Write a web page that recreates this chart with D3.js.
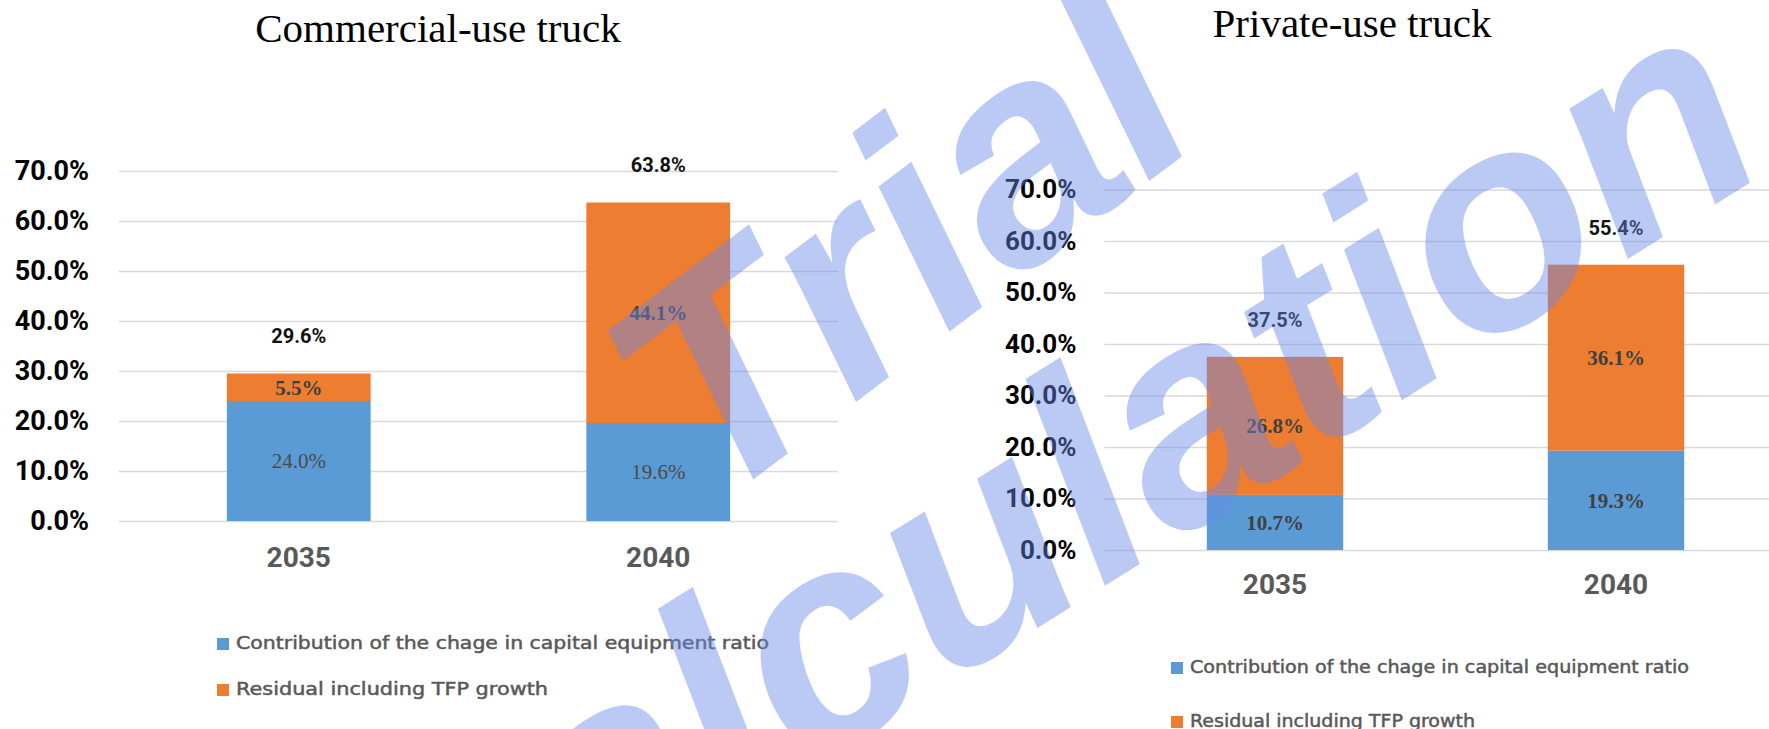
<!DOCTYPE html>
<html>
<head>
<meta charset="utf-8">
<script src="https://cdn.jsdelivr.net/npm/d3@7"></script>
<style>
  html, body { margin: 0; padding: 0; background: #fff; }
  svg { display: block; }
</style>
</head>
<body>
<svg id="chart" width="1769" height="729"></svg>
<script>
// ---- data ----
const years = ["2035", "2040"];
const seriesNames = [
  "Contribution of the chage in capital equipment ratio",
  "Residual including TFP growth"
];
const commercialCapital  = [0.240, 0.196];
const commercialResidual = [0.055, 0.441];
const commercialTotal    = [0.296, 0.638];
const privateCapital     = [0.107, 0.193];
const privateResidual    = [0.268, 0.361];
const privateTotal       = [0.375, 0.554];
const yTicks = [0, 0.1, 0.2, 0.3, 0.4, 0.5, 0.6, 0.7];
const watermarkWords = ["Trial", "calculation"];

const colors = ["#5b9bd5", "#ed7d31"];
const pct = d3.format(".1%");
const svg = d3.select("#chart");

function drawPanel(cfg) {
  const g = svg.append("g");
  const y = d3.scaleLinear().domain([0, 0.7]).range([cfg.y0, cfg.y70]);
  const x = d3.scaleBand().domain(years).range([cfg.x0, cfg.x1])
    .paddingInner(0.6).paddingOuter(0.3);

  // title
  g.append("text")
    .attr("x", cfg.titleX).attr("y", cfg.titleY)
    .attr("text-anchor", "middle")
    .style("font-family", "'Liberation Serif', 'Times New Roman', serif")
    .style("font-size", "41px").attr("fill", "#000")
    .text(cfg.title);

  // gridlines + y labels via axis
  const yAxis = d3.axisLeft(y).tickValues(yTicks).tickFormat(pct)
    .tickSize(-(cfg.gridEnd - cfg.x0)).tickPadding(cfg.labelPad);
  const ya = g.append("g").attr("transform", `translate(${cfg.x0},0)`).call(yAxis);
  ya.select(".domain").remove();
  ya.selectAll(".tick line").attr("stroke", "#d9d9d9").attr("stroke-width", 1.4);
  ya.selectAll(".tick text")
    .style("font-family", "Roboto, 'Open Sans', sans-serif")
    .style("font-weight", 700).style("font-size", cfg.tickSize + "px")
    .attr("fill", "#000");

  // stacked bars
  const rows = years.map((yr, i) => ({ year: yr, capital: cfg.capital[i], residual: cfg.residual[i], total: cfg.total[i] }));
  const stack = d3.stack().keys(["capital", "residual"])(rows);
  stack.forEach((layer, si) => {
    g.append("g").selectAll("rect").data(layer).join("rect")
      .attr("x", d => x(d.data.year))
      .attr("width", x.bandwidth())
      .attr("y", d => y(d[1]))
      .attr("height", d => y(d[0]) - y(d[1]))
      .attr("fill", colors[si]);
    g.append("g").selectAll("text").data(layer).join("text")
      .attr("x", d => x(d.data.year) + x.bandwidth() / 2)
      .attr("y", d => y((d[0] + d[1]) / 2))
      .attr("dy", "0.35em")
      .attr("text-anchor", "middle")
      .style("font-family", "'Liberation Serif', 'Times New Roman', serif")
      .style("font-size", "21px")
      .style("font-weight", cfg.segWeight[si])
      .attr("fill", cfg.segColor[si])
      .text(d => pct(d[1] - d[0]));
  });

  // totals above bars
  g.append("g").selectAll("text").data(rows).join("text")
    .attr("x", d => x(d.year) + x.bandwidth() / 2)
    .attr("y", d => y(d.total) - 30)
    .attr("text-anchor", "middle")
    .style("font-family", "Roboto, 'Open Sans', sans-serif")
    .style("font-weight", 700).style("font-size", "20px")
    .attr("fill", "#111")
    .text(d => pct(d.total));

  // category labels
  g.append("g").selectAll("text").data(years).join("text")
    .attr("x", d => x(d) + x.bandwidth() / 2)
    .attr("y", cfg.catY)
    .attr("text-anchor", "middle")
    .style("font-family", "Roboto, 'Open Sans', sans-serif")
    .style("font-weight", 700).style("font-size", "28px")
    .attr("fill", "#595959")
    .text(d => d);

  // legend
  const lg = g.append("g");
  seriesNames.forEach((name, i) => {
    const ly = cfg.legY + i * cfg.legGap;
    lg.append("rect").attr("x", cfg.legX).attr("y", ly - 11)
      .attr("width", 12).attr("height", 12).attr("fill", colors[i]);
    lg.append("text").attr("x", cfg.legX + 19).attr("y", ly)
      .style("font-family", "'DejaVu Sans', Verdana, sans-serif")
      .style("font-size", cfg.legSize + "px")
      .attr("fill", "#595959")
      .attr("stroke", "#595959").attr("stroke-width", 0.5)
      .attr("textLength", cfg.legWidth[i])
      .attr("lengthAdjust", "spacingAndGlyphs")
      .text(name);
  });
}

drawPanel({
  title: "Commercial-use truck", titleX: 438, titleY: 42,
  y0: 521, y70: 171, x0: 119, x1: 838, gridEnd: 838,
  labelPad: 30, tickSize: 27, catY: 567,
  capital: commercialCapital, residual: commercialResidual, total: commercialTotal,
  segWeight: [400, 700], segColor: ["#4a4a4a", "#404040"],
  legX: 217, legY: 649, legGap: 46, legSize: 18, legWidth: [533, 312]
});

drawPanel({
  title: "Private-use truck", titleX: 1352, titleY: 37,
  y0: 550, y70: 189.5, x0: 1104.5, x1: 1786.5, gridEnd: 1786.5,
  labelPad: 28, tickSize: 26, catY: 594,
  capital: privateCapital, residual: privateResidual, total: privateTotal,
  segWeight: [700, 700], segColor: ["#404040", "#404040"],
  legX: 1171, legY: 673, legGap: 54, legSize: 17.5, legWidth: [499, 285]
});

// translucent watermark drawn over everything
const wm = svg.append("g")
  .attr("pointer-events", "none")
  .attr("fill", "rgb(105,135,232)")
  .attr("fill-opacity", 0.45)
  .style("font-family", "'Liberation Sans', Arial, sans-serif")
  .style("font-weight", 700)
  .style("font-style", "italic")
  .style("font-size", "300px");
wm.append("text").attr("transform", "translate(710,512) rotate(-37)").text(watermarkWords[0]);
wm.append("text").attr("transform", "translate(450,995) rotate(-32)").text(watermarkWords[1]);
</script>
</body>
</html>
